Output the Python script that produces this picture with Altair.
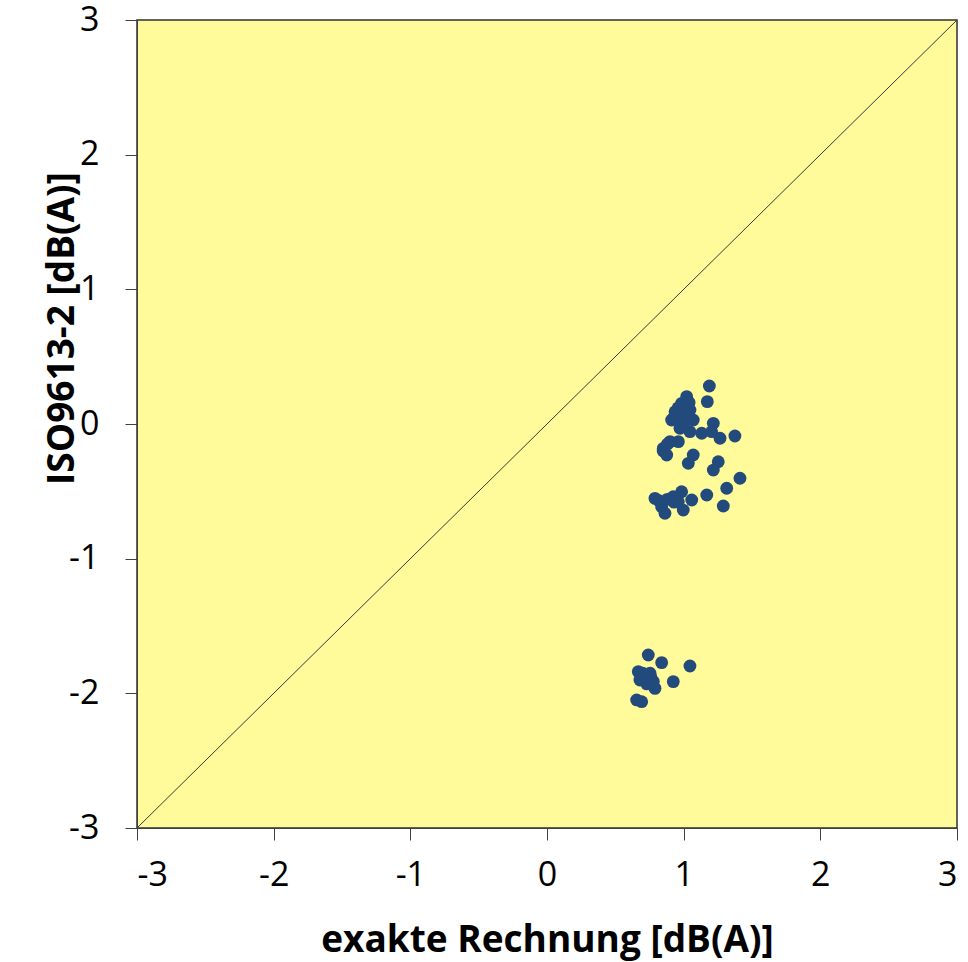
import altair as alt
import pandas as pd

# Scatter data: exakte Rechnung (x) vs ISO9613-2 (y), dB(A)
x_vals = [1.188, 1.173, 1.022, 0.985, 0.937, 1.046, 0.912, 0.997, 1.070, 0.973,
          1.046, 1.217, 1.132, 1.205, 1.266, 1.375, 0.900, 0.851, 0.876, 0.961,
          1.070, 1.034, 1.253, 1.217, 1.412, 1.315, 1.290, 1.169, 0.790, 0.839,
          0.863, 0.924, 0.985, 0.997, 1.059, 0.961, 0.950, 1.010,
          0.930, 0.960, 1.000, 1.020, 0.980, 1.040, 0.820, 0.880, 0.930, 0.850, 0.880,
          0.741, 0.839, 1.046, 0.668, 0.754, 0.680, 0.778, 0.924, 0.790, 0.656,
          0.693, 0.717, 0.700, 0.730, 0.760]
y_vals = [0.282, 0.166, 0.203, 0.153, 0.091, 0.104, 0.030, 0.030, 0.030, -0.032,
          -0.057, 0.005, -0.069, -0.057, -0.106, -0.089, -0.131, -0.181, -0.230, -0.131,
          -0.230, -0.292, -0.280, -0.342, -0.403, -0.477, -0.609, -0.527, -0.552, -0.614,
          -0.663, -0.540, -0.503, -0.639, -0.564, -0.577, 0.060, 0.120,
          0.050, 0.120, 0.000, 0.070, -0.020, 0.160, -0.570, -0.560, -0.580, -0.200, -0.150,
          -1.715, -1.772, -1.797, -1.839, -1.851, -1.901, -1.913, -1.913, -1.963, -2.049,
          -2.062, -1.876, -1.850, -1.930, -1.880]

tick_values = [-3, -2, -1, 0, 1, 2, 3]
diag_x = [-3, 3]
diag_y = [-3, 3]

pts = pd.DataFrame({"x": x_vals, "y": y_vals})
diag = pd.DataFrame({"x": diag_x, "y": diag_y})

FONT = "Open Sans"
xscale = alt.Scale(domain=[-3, 3], nice=False, zero=False)
yscale = alt.Scale(domain=[-3, 3], nice=False, zero=False)

LABEL = "'' + datum.value"

xaxis = alt.Axis(title="exakte Rechnung [dB(A)]", values=tick_values, labelExpr=LABEL,
                 grid=False, tickSize=12, tickColor="#404040", domainColor="#404040",
                 labelFontSize=34, labelFont=FONT, labelColor="#000000", labelPadding=18,
                 titleFontSize=37, titleFont=FONT, titleFontWeight="bold",
                 titleColor="#000000", titleY=112, titleBaseline="middle")
yaxis = alt.Axis(title="ISO9613-2 [dB(A)]", values=tick_values, labelExpr=LABEL,
                 grid=False, tickSize=12, tickColor="#404040", domainColor="#404040",
                 labelFontSize=34, labelFont=FONT, labelColor="#000000", labelPadding=26,
                 titleFontSize=37, titleFont=FONT, titleFontWeight="bold",
                 titleColor="#000000", titleAngle=-90, titleX=-75, titleY=308,
                 titleBaseline="middle", titleAlign="center")

line = alt.Chart(diag).mark_line(color="#3a3a3a", strokeWidth=1).encode(
    x=alt.X("x:Q", scale=xscale, axis=xaxis),
    y=alt.Y("y:Q", scale=yscale, axis=yaxis),
)

points = alt.Chart(pts).mark_circle(size=165, color="#234a7c", opacity=1).encode(
    x=alt.X("x:Q", scale=xscale),
    y=alt.Y("y:Q", scale=yscale),
)

chart = alt.layer(line, points).properties(
    width=820, height=808,
    autosize=alt.AutoSizeParams(type="none"),
    padding={"left": 137, "top": 20, "right": 11, "bottom": 134},
    background="#ffffff",
).configure_view(fill="#FFFB9A", stroke="#303030", strokeWidth=1.5)

chart.save("out.html", embed_options={"renderer": "svg", "actions": False})
